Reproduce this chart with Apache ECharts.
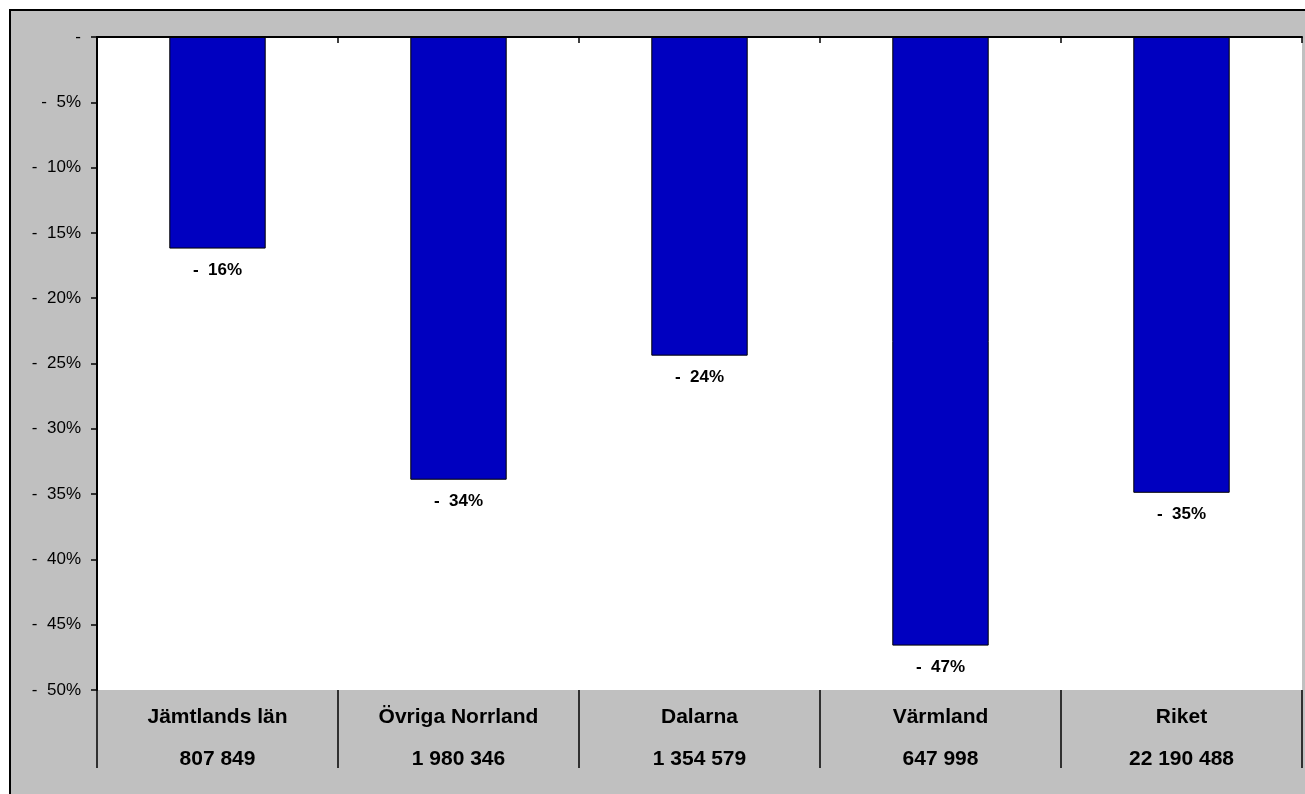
<!DOCTYPE html>
<html>
<head>
<meta charset="utf-8">
<script src="https://cdn.jsdelivr.net/npm/echarts@6/dist/echarts.min.js"></script>
<style>
  html, body { margin: 0; padding: 0; background: #fff; }
  #chart { width: 1305px; height: 794px; }
</style>
</head>
<body>
<div id="chart"></div>
<script>
// data
var regions = ['Jämtlands län', 'Övriga Norrland', 'Dalarna', 'Värmland', 'Riket'];
var totals = ['807 849', '1 980 346', '1 354 579', '647 998', '22 190 488'];
var change = [-16.2, -33.9, -24.4, -46.6, -34.9];

var font = 'Arial, "Liberation Sans", sans-serif';

function pct(v) {
    if (v === 0) return '-';
    return '-  ' + Math.abs(v) + '%';
}

var myChart = echarts.init(document.getElementById('chart'));
var option = {
    backgroundColor: '#ffffff',
    animation: false,
    graphic: [{
        type: 'rect',
        z: -10,
        shape: { x: 10, y: 10, width: 1310, height: 800 },
        style: { fill: '#c0c0c0', stroke: '#000', lineWidth: 2 }
    }],
    grid: {
        left: 97, top: 37, right: 3, bottom: 104,
        show: true,
        backgroundColor: '#ffffff',
        borderWidth: 0
    },
    xAxis: [{
        // labels at the bottom
        type: 'category',
        position: 'bottom',
        data: regions.map(function (r, i) { return r + '\n' + totals[i]; }),
        axisLine: { show: false, onZero: false },
        axisTick: { show: true, length: 78, lineStyle: { color: '#000', width: 1.5 } },
        axisLabel: {
            margin: 6,
            fontFamily: font,
            fontSize: 21,
            fontWeight: 'bold',
            color: '#000',
            lineHeight: 42
        },
        splitLine: { show: false }
    }, {
        // zero line at the top
        type: 'category',
        position: 'top',
        data: regions,
        axisLine: { show: true, onZero: false, lineStyle: { color: '#000', width: 2 } },
        axisTick: { show: true, inside: true, length: 6, lineStyle: { color: '#000', width: 1.5 } },
        axisLabel: { show: false },
        splitLine: { show: false }
    }],
    yAxis: {
        type: 'value',
        min: -50,
        max: 0,
        interval: 5,
        axisLine: { show: true, lineStyle: { color: '#000', width: 2 } },
        axisTick: { show: true, length: 6, lineStyle: { color: '#000', width: 1.5 } },
        axisLabel: {
            margin: 16,
            fontFamily: font,
            fontSize: 17,
            color: '#000',
            formatter: pct
        },
        splitLine: { show: false }
    },
    series: [{
        type: 'bar',
        data: change,
        barWidth: '40%',
        itemStyle: { color: '#0000c0', borderColor: '#000', borderWidth: 1 },
        label: {
            show: true,
            position: 'bottom',
            distance: 13,
            fontFamily: font,
            fontSize: 17,
            fontWeight: 'bold',
            color: '#000',
            formatter: function (p) { return '-  ' + Math.round(Math.abs(p.value)) + '%'; }
        }
    }]
};
myChart.setOption(option);
</script>
</body>
</html>
